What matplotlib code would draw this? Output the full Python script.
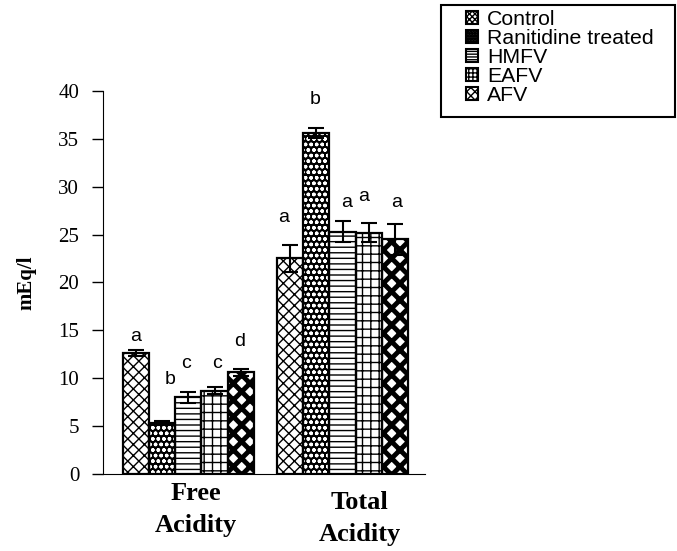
import numpy as np
import matplotlib.pyplot as plt
import matplotlib as mpl
from matplotlib.patches import Patch, Rectangle

# values (mEq/l)
groups = ['Free\nAcidity', 'Total\nAcidity']
treatments = ['Control', 'Ranitidine treated', 'HMFV', 'EAFV', 'AFV']
free_acidity = [12.6, 5.3, 8.0, 8.7, 10.6]
free_err = [0.3, 0.2, 0.6, 0.4, 0.4]
total_acidity = [22.5, 35.6, 25.3, 25.2, 24.5]
total_err = [1.4, 0.5, 1.1, 1.0, 1.6]
free_letters = ['a', 'b', 'c', 'c', 'd']
total_letters = ['a', 'b', 'a', 'a', 'a']

# styles per treatment: (facecolor, hatch colour, hatch, hatch linewidth)
styles = [
    ('white', 'black', 'xxx', 1.0),
    ('black', 'white', 'ooo', 1.0),
    ('white', 'black', '---', 1.0),
    ('white', 'black', '++', 1.0),
    ('white', 'black', 'xx', 3.5),
]


def main():
    fig = plt.figure(figsize=(6.77, 5.51), dpi=100)
    ax = fig.add_axes([0.152, 0.14, 0.476, 0.695])

    width = 1.0
    centers = np.array([0.0, 5.88])
    values = [free_acidity, total_acidity]
    errors = [free_err, total_err]
    letters = [free_letters, total_letters]
    letter_gap = [[0.6, 3.5, 2.0, 1.5, 1.9], [2.0, 2.1, 1.1, 1.9, 1.4]]
    letter_dx = [[0.0, 0.3, -0.1, 0.1, -0.05], [-0.25, -0.05, 0.15, -0.2, 0.05]]

    for g in range(len(groups)):
        for i in range(len(treatments)):
            x = centers[g] + (i - 2) * width
            fc, hc, hatch, hlw = styles[i]
            with mpl.rc_context({'hatch.linewidth': hlw}):
                ax.bar(x, values[g][i], width, color=fc, edgecolor=hc, hatch=hatch,
                       linewidth=0, zorder=2)
            ax.bar(x, values[g][i], width, fill=False, edgecolor='black',
                   linewidth=1.6, zorder=3)
            ax.errorbar(x, values[g][i], yerr=errors[g][i], color='black',
                        capsize=6, elinewidth=1.5, capthick=1.5, zorder=4)
            ax.text(x + letter_dx[g][i], values[g][i] + errors[g][i] + letter_gap[g][i],
                    letters[g][i], ha='center', va='bottom', fontsize=14,
                    family='Liberation Sans')

    ax.set_xlim(-3.26, 9.03)
    ax.set_ylim(0, 40)
    ax.set_yticks(range(0, 41, 5))
    ax.tick_params(axis='y', labelsize=15, length=8, width=1, direction='out', pad=9)
    for lbl in ax.get_yticklabels():
        lbl.set_family('Liberation Serif')
    ax.set_xticks([])
    ax.spines['top'].set_visible(False)
    ax.spines['right'].set_visible(False)
    ax.set_ylabel('mEq/l', fontsize=15, fontweight='bold', family='Liberation Serif',
                  labelpad=16)

    # group labels under the axis
    trans = ax.get_xaxis_transform()
    ax.text(centers[0] + 0.3, -0.02, groups[0], transform=trans, ha='center', va='top',
            fontsize=19, fontweight='bold', family='Liberation Serif', linespacing=1.5)
    ax.text(centers[1] + 0.65, -0.045, groups[1], transform=trans, ha='center', va='top',
            fontsize=19, fontweight='bold', family='Liberation Serif', linespacing=1.5)

    # legend, with its frame drawn separately
    handles = []
    for fc, hc, hatch, hlw in styles:
        with mpl.rc_context({'hatch.linewidth': min(hlw, 2.0)}):
            handles.append(Patch(facecolor=fc if fc != 'black' else '#222222',
                                 edgecolor='black', hatch=hatch * 2, linewidth=1.5))
    fig.patches.append(Rectangle((441 / 677, 1 - 117 / 551), 234 / 677, 112 / 551,
                                 transform=fig.transFigure, fill=False,
                                 edgecolor='black', linewidth=1.5))
    fig.legend(handles, treatments, loc='upper left',
               bbox_to_anchor=(466 / 677, 1 - 10 / 551),
               prop={'family': 'Liberation Sans', 'size': 15.3}, frameon=False,
               handlelength=0.55, handleheight=0.55, handletextpad=0.45,
               labelspacing=0.0, borderpad=0, borderaxespad=0)

    plt.savefig('out.png', dpi=100)


if __name__ == '__main__':
    main()
